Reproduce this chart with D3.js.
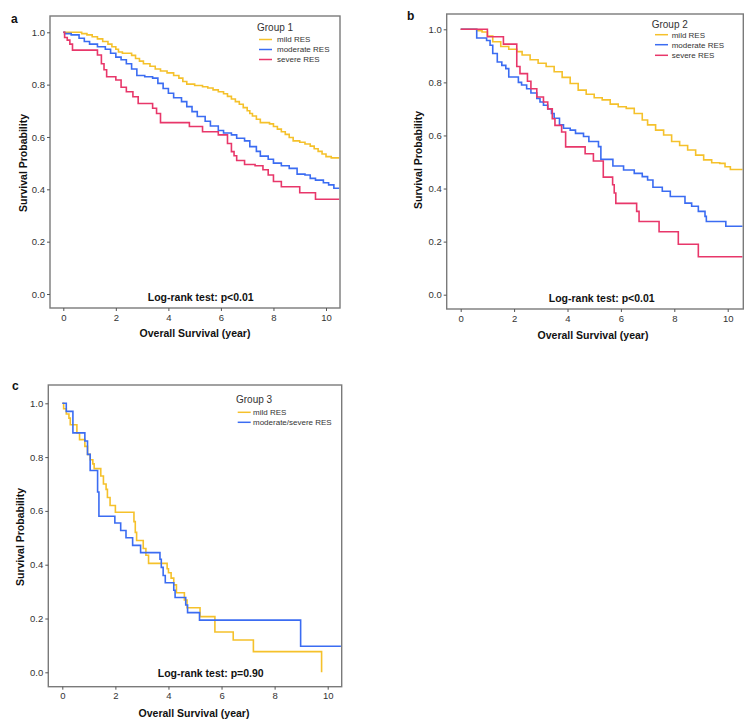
<!DOCTYPE html>
<html><head><meta charset="utf-8">
<script src="https://cdn.jsdelivr.net/npm/d3@7"></script>
<style>body{margin:0;background:#fff}svg{display:block}text{font-family:Arial,"Liberation Sans",sans-serif}</style>
</head><body>
<svg id="c" width="752" height="728"></svg>
<script>
// ---------------- DATA ----------------
const yTicks = [0.0, 0.2, 0.4, 0.6, 0.8, 1.0];
const xTicks = [0, 2, 4, 6, 8, 10];
const xTitle = "Overall Survival (year)";
const yTitle = "Survival Probability";

// Panel a – Group 1  [time, survival after event]
const a_mild = [[0.7,0.995],[0.9,0.99],[1.1,0.983],[1.3,0.975],[1.5,0.965],[1.7,0.955],[1.85,0.945],[2.0,0.935],[2.1,0.925],[2.25,0.92],[2.6,0.912],[2.75,0.9],[2.9,0.89],[3.05,0.88],[3.3,0.87],[3.5,0.86],[3.7,0.852],[3.95,0.845],[4.2,0.835],[4.4,0.825],[4.55,0.812],[4.7,0.802],[5.0,0.797],[5.3,0.792],[5.5,0.787],[5.7,0.78],[5.9,0.773],[6.1,0.765],[6.25,0.755],[6.4,0.745],[6.55,0.735],[6.7,0.725],[6.85,0.712],[7.0,0.70],[7.1,0.69],[7.2,0.68],[7.35,0.668],[7.5,0.655],[7.85,0.65],[8.0,0.64],[8.15,0.63],[8.3,0.62],[8.45,0.61],[8.6,0.598],[8.75,0.585],[9.0,0.58],[9.2,0.573],[9.4,0.565],[9.55,0.555],[9.7,0.545],[9.85,0.535],[10.0,0.525],[10.2,0.52]];
const a_moderate = [[0.05,0.995],[0.3,0.99],[0.6,0.977],[0.8,0.965],[1.0,0.955],[1.3,0.945],[1.6,0.935],[1.8,0.92],[2.0,0.905],[2.2,0.895],[2.4,0.88],[2.6,0.86],[2.8,0.835],[3.1,0.83],[3.4,0.825],[3.6,0.805],[3.8,0.785],[4.0,0.767],[4.2,0.75],[4.5,0.735],[4.7,0.716],[4.9,0.697],[5.1,0.678],[5.4,0.66],[5.6,0.642],[5.9,0.625],[6.1,0.615],[6.4,0.608],[6.6,0.595],[6.9,0.585],[7.1,0.563],[7.35,0.545],[7.5,0.527],[7.8,0.515],[8.0,0.50],[8.3,0.49],[8.6,0.48],[8.9,0.458],[9.2,0.455],[9.4,0.442],[9.6,0.435],[9.9,0.425],[10.1,0.417],[10.3,0.404]];
const a_severe = [[0.05,0.98],[0.15,0.97],[0.25,0.955],[0.35,0.932],[1.3,0.913],[1.45,0.88],[1.55,0.857],[1.65,0.83],[2.0,0.818],[2.2,0.79],[2.4,0.773],[2.65,0.754],[2.85,0.728],[3.4,0.71],[3.55,0.69],[3.7,0.655],[4.8,0.64],[5.3,0.62],[5.9,0.608],[6.25,0.575],[6.4,0.544],[6.5,0.528],[6.6,0.51],[6.9,0.495],[7.3,0.49],[7.6,0.475],[7.8,0.455],[8.0,0.43],[8.3,0.41],[9.0,0.387],[9.6,0.362]];

// Panel b – Group 2
const b_mild = [[0.6,0.995],[0.8,0.99],[1.0,0.975],[1.2,0.953],[1.5,0.935],[1.8,0.925],[2.1,0.916],[2.3,0.903],[2.6,0.885],[2.9,0.872],[3.2,0.86],[3.5,0.84],[3.8,0.819],[4.1,0.796],[4.4,0.771],[4.7,0.755],[5.0,0.742],[5.3,0.734],[5.6,0.718],[5.9,0.708],[6.2,0.702],[6.5,0.683],[6.8,0.658],[7.0,0.64],[7.3,0.62],[7.6,0.602],[7.9,0.577],[8.2,0.562],[8.5,0.545],[8.8,0.526],[9.1,0.508],[9.4,0.497],[9.7,0.495],[9.9,0.482],[10.1,0.472]];
const b_moderate = [[0.6,0.967],[0.97,0.958],[1.1,0.94],[1.2,0.909],[1.37,0.877],[1.54,0.864],[1.69,0.852],[1.8,0.82],[2.16,0.80],[2.28,0.79],[2.47,0.776],[2.63,0.76],[2.85,0.739],[2.97,0.726],[3.1,0.714],[3.26,0.70],[3.4,0.683],[3.5,0.665],[3.7,0.64],[3.85,0.627],[4.1,0.62],[4.3,0.608],[4.6,0.596],[4.8,0.577],[5.16,0.558],[5.25,0.51],[5.7,0.485],[6.1,0.47],[6.5,0.457],[6.8,0.445],[7.0,0.432],[7.2,0.405],[7.55,0.39],[7.85,0.37],[8.4,0.345],[8.65,0.333],[8.9,0.314],[9.15,0.295],[9.2,0.276],[9.93,0.258]];
const b_severe = [[1.0,0.972],[1.6,0.944],[2.1,0.86],[2.22,0.833],[2.5,0.804],[2.63,0.776],[2.85,0.745],[3.1,0.726],[3.26,0.70],[3.43,0.663],[3.53,0.638],[3.78,0.613],[3.93,0.557],[4.66,0.531],[4.97,0.504],[5.34,0.443],[5.69,0.414],[5.75,0.383],[5.81,0.344],[6.59,0.314],[6.68,0.276],[7.43,0.237],[8.15,0.19],[8.9,0.143]];

// Panel c – Group 3
const c_mild = [[0.05,0.98],[0.15,0.96],[0.25,0.945],[0.3,0.92],[0.55,0.89],[0.65,0.865],[0.85,0.84],[0.95,0.81],[1.05,0.79],[1.15,0.775],[1.2,0.757],[1.45,0.73],[1.55,0.70],[1.65,0.68],[1.7,0.65],[1.8,0.62],[2.0,0.595],[2.7,0.56],[2.75,0.52],[2.8,0.49],[3.05,0.46],[3.15,0.435],[3.25,0.405],[3.95,0.385],[4.0,0.37],[4.1,0.35],[4.2,0.325],[4.3,0.296],[4.6,0.269],[4.7,0.24],[5.19,0.207],[5.75,0.15],[6.44,0.12],[7.2,0.077],[9.77,0.0]];
const c_modsev = [[0.15,0.97],[0.4,0.89],[0.85,0.86],[0.95,0.81],[1.05,0.75],[1.33,0.67],[1.38,0.58],[1.98,0.555],[2.2,0.527],[2.4,0.50],[2.65,0.472],[2.95,0.445],[3.68,0.42],[3.73,0.39],[3.8,0.36],[3.88,0.333],[4.2,0.305],[4.25,0.278],[4.65,0.25],[4.72,0.222],[5.17,0.194],[8.98,0.097]];

const colors = {mild:"#f5c12b", moderate:"#3b6cf2", severe:"#e8376a"};

// ---------------- LAYOUT ----------------
const panels = [
  {letter:"a", group:"Group 1", test:"Log-rank test: p<0.01",
   frame:{l:50,t:16,r:340,b:308}, x0:63.3, x10:326, y0:294, y1:32.3,
   series:[{d:a_mild,c:colors.mild,n:"mild RES"},{d:a_moderate,c:colors.moderate,n:"moderate RES"},{d:a_severe,c:colors.severe,n:"severe RES"}],
   letterPos:[11,23], legend:{gx:257,gy:30.5,lx:259,tx:277,ys:[39.5,49.5,59.5]},
   testPos:[200.7,300.5], xtPos:[195,337], ytPos:[23,163]},
  {letter:"b", group:"Group 2", test:"Log-rank test: p<0.01",
   frame:{l:446.7,t:14,r:743.3,b:309}, x0:460.7, x10:727.7, y0:294.7, y1:29.3,
   series:[{d:b_mild,c:colors.mild,n:"mild RES"},{d:b_moderate,c:colors.moderate,n:"moderate RES"},{d:b_severe,c:colors.severe,n:"severe RES"}],
   letterPos:[407,20], legend:{gx:651.7,gy:27.5,lx:655,tx:671.7,ys:[34.7,44.7,55.3]},
   testPos:[601.7,302], xtPos:[593,339], ytPos:[418,160]},
  {letter:"c", group:"Group 3", test:"Log-rank test: p=0.90",
   frame:{l:48.3,t:385,r:341.7,b:686.7}, x0:62.3, x10:327.7, y0:672.3, y1:403.3,
   series:[{d:c_mild,c:colors.mild,n:"mild RES",stopAtLast:true},{d:c_modsev,c:colors.moderate,n:"moderate/severe RES"}],
   letterPos:[12,390], legend:{gx:236,gy:402.5,lx:237.7,tx:253,ys:[412.3,422.3]},
   testPos:[210.7,677], xtPos:[194,717], ytPos:[20,537]}
];

const svg = d3.select("#c");

panels.forEach(p => {
  const g = svg.append("g");
  const x = d3.scaleLinear().domain([0,10]).range([p.x0,p.x10]);
  const y = d3.scaleLinear().domain([0,1]).range([p.y0,p.y1]);
  const f = p.frame;
  const tEnd = x.invert(f.r - 0.8);

  // curves
  const line = d3.line().x(d=>x(d[0])).y(d=>y(d[1])).curve(d3.curveStepAfter);
  p.series.forEach(s => {
    let pts = [[0,1], ...s.d];
    if (!s.stopAtLast) pts.push([tEnd, s.d[s.d.length-1][1]]);
    g.append("path").attr("d", line(pts)).attr("fill","none")
      .attr("stroke", s.c).attr("stroke-width",1.6);
  });

  // frame
  g.append("rect").attr("x",f.l).attr("y",f.t).attr("width",f.r-f.l).attr("height",f.b-f.t)
    .attr("fill","none").attr("stroke","#7a7a7a").attr("stroke-width",1.4);

  // y axis
  const ya = g.append("g").attr("transform",`translate(${f.l},0)`)
    .call(d3.axisLeft(y).tickValues(yTicks).tickFormat(d3.format(".1f")).tickSize(3).tickPadding(2));
  ya.select(".domain").remove();
  ya.selectAll("line").attr("stroke","#555");
  ya.selectAll("text").attr("font-size",9.5).attr("fill","#333").style("font-family","Arial, 'Liberation Sans', sans-serif");

  // x axis
  const xa = g.append("g").attr("transform",`translate(0,${f.b})`)
    .call(d3.axisBottom(x).tickValues(xTicks).tickFormat(d3.format("d")).tickSize(3).tickPadding(3));
  xa.select(".domain").remove();
  xa.selectAll("line").attr("stroke","#555");
  xa.selectAll("text").attr("font-size",9.5).attr("fill","#333").style("font-family","Arial, 'Liberation Sans', sans-serif");

  // titles
  g.append("text").attr("x",p.xtPos[0]).attr("y",p.xtPos[1]).attr("text-anchor","middle")
    .attr("font-size",10.5).attr("font-weight","bold").attr("fill","#111").text(xTitle);
  g.append("text").attr("transform",`translate(${p.ytPos[0]+4},${p.ytPos[1]}) rotate(-90)`)
    .attr("text-anchor","middle").attr("font-size",10.5).attr("font-weight","bold").attr("fill","#111").text(yTitle);
  g.append("text").attr("x",p.letterPos[0]).attr("y",p.letterPos[1])
    .attr("font-size",12).attr("font-weight","bold").attr("fill","#111").text(p.letter);
  g.append("text").attr("x",p.testPos[0]).attr("y",p.testPos[1]).attr("text-anchor","middle")
    .attr("font-size",10.5).attr("font-weight","bold").attr("fill","#111").text(p.test);

  // legend
  const L = p.legend;
  g.append("text").attr("x",L.gx).attr("y",L.gy).attr("font-size",10).attr("fill","#333").text(p.group);
  p.series.forEach((s,i) => {
    g.append("line").attr("x1",L.lx).attr("x2",L.lx+13).attr("y1",L.ys[i]).attr("y2",L.ys[i])
      .attr("stroke",s.c).attr("stroke-width",1.5);
    g.append("text").attr("x",L.tx).attr("y",L.ys[i]+2.8).attr("font-size",8).attr("fill","#333").text(s.n);
  });
});
</script>
</body></html>
